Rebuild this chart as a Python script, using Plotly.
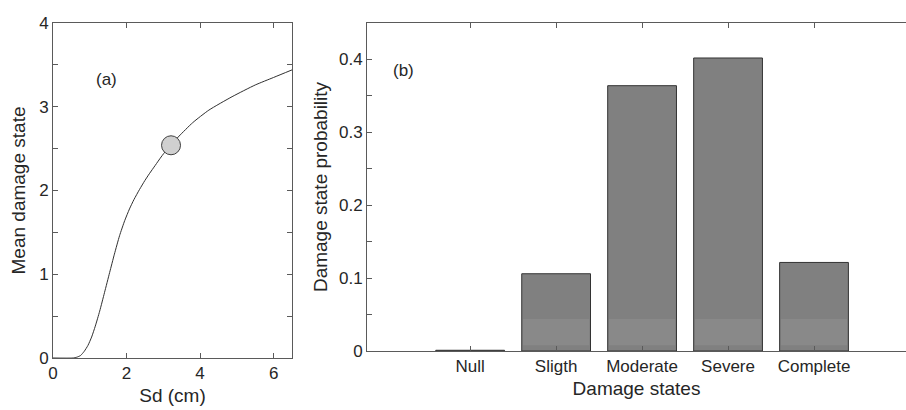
import plotly.graph_objects as go

# ---- data ----
sd_cm = [0, 0.55, 0.65, 0.75, 0.85, 0.95, 1.05, 1.15, 1.27, 1.4, 1.54, 1.67, 1.81, 1.95, 2.08, 2.2, 2.35,
         2.5, 2.62, 2.78, 2.94, 3.08, 3.2, 3.43, 3.8, 4.24, 4.87, 5.5, 6.0, 6.5]
mean_ds = [0, 0, 0.01, 0.03, 0.08, 0.15, 0.25, 0.38, 0.56, 0.78, 1.02, 1.24, 1.46, 1.64, 1.78, 1.89, 2.01,
           2.12, 2.20, 2.30, 2.40, 2.48, 2.54, 2.65, 2.81, 2.96, 3.12, 3.26, 3.35, 3.44]
point_sd = [3.21]
point_ds = [2.54]

states = ["Null", "Sligth", "Moderate", "Severe", "Complete"]
state_pos = [1, 2, 3, 4, 5]
probability = [0.001, 0.106, 0.364, 0.402, 0.1215]
band_base = 0.008
band_top = 0.044

FONT = "Liberation Sans, Arial, sans-serif"
TXT = "#262626"
AX = "#5a5a5a"

fig = go.Figure()

fig.add_trace(go.Scatter(x=sd_cm, y=mean_ds, mode="lines", line=dict(color="#303030", width=1, shape="spline", smoothing=0.6),
                         xaxis="x", yaxis="y", showlegend=False, hoverinfo="skip"))
fig.add_trace(go.Scatter(x=point_sd, y=point_ds, mode="markers",
                         marker=dict(size=19, color="#d0d0d0", line=dict(color="#404040", width=1)),
                         xaxis="x", yaxis="y", showlegend=False))

fig.add_trace(go.Bar(x=state_pos, y=probability, width=0.8, marker=dict(color="#808080", line=dict(color="#333333", width=1)),
                     xaxis="x2", yaxis="y2", showlegend=False))
band_x = [p for p, v in zip(state_pos, probability) if v > band_top]
band_y = [band_top - band_base for v in probability if v > band_top]
fig.add_trace(go.Bar(x=band_x, y=band_y, base=[band_base] * len(band_x), width=0.77,
                     marker=dict(color="#898989", line=dict(width=0)),
                     xaxis="x2", yaxis="y2", showlegend=False, hoverinfo="skip"))

axis_common = dict(showline=True, linecolor=AX, linewidth=1, ticks="inside", ticklen=5, tickcolor=AX,
                   showgrid=False, zeroline=False, automargin=False,
                   tickfont=dict(family=FONT, size=17, color=TXT))

fig.update_layout(
    template="none",
    width=906, height=410, margin=dict(l=0, r=0, t=0, b=0, autoexpand=False),
    paper_bgcolor="white", plot_bgcolor="white", barmode="overlay",
    font=dict(family=FONT, color=TXT),
    xaxis=dict(domain=[53/906, 292/906], range=[0, 6.5], tickvals=[0, 2, 4, 6], mirror="ticks",
               title=dict(text="Sd (cm)", font=dict(family=FONT, size=19, color=TXT), standoff=6),
               anchor="y", **axis_common),
    yaxis=dict(domain=[52/410, 387/410], range=[0, 4], tickvals=[0, 1, 2, 3, 4], mirror="ticks",
               minor=dict(dtick=0.5, ticks="inside", ticklen=5, tickcolor=AX),
               title=dict(text="Mean damage state", font=dict(family=FONT, size=19, color=TXT), standoff=8),
               anchor="x", **axis_common),
    xaxis2=dict(domain=[367/906, 1.0], range=[-0.2, 6.07], tickvals=state_pos, ticktext=states, mirror="ticks",
                title=dict(text="Damage states", font=dict(family=FONT, size=19, color=TXT), standoff=6),
                anchor="y2", **axis_common),
    yaxis2=dict(domain=[59/410, 387/410], range=[0, 0.45], tickvals=[0, 0.1, 0.2, 0.3, 0.4],
                ticktext=["0", "0.1", "0.2", "0.3", "0.4"], mirror=False,
                minor=dict(dtick=0.05, ticks="inside", ticklen=5, tickcolor=AX),
                title=dict(text="Damage state probability", font=dict(family=FONT, size=19, color=TXT), standoff=6),
                anchor="x2", **axis_common),
    annotations=[
        dict(text="(a)", x=1.46, y=3.33, xref="x", yref="y", showarrow=False, font=dict(family=FONT, size=17, color=TXT)),
        dict(text="(b)", x=0.23, y=0.385, xref="x2", yref="y2", showarrow=False, font=dict(family=FONT, size=17, color=TXT)),
    ],
)

fig.write_html("out.html")
